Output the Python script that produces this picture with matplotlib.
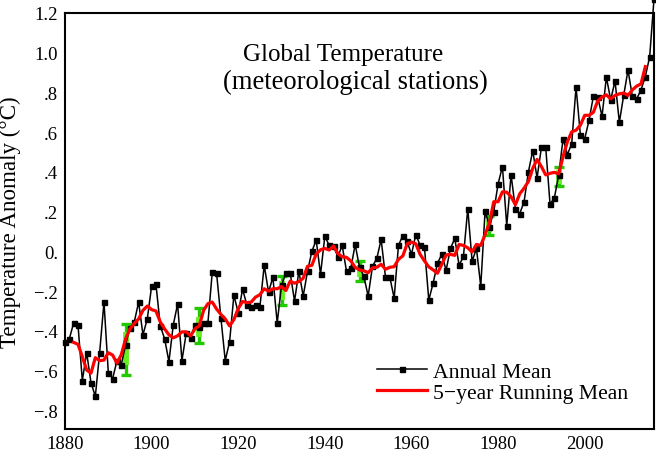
"""Global temperature anomaly from meteorological stations."""

import matplotlib

matplotlib.use("Agg")
import matplotlib.pyplot as plt
import numpy as np

plt.rcParams["font.family"] = ["Liberation Serif", "DejaVu Serif"]

annual_years = np.arange(1880, 2017)
annual_mean = [
    -0.455, -0.44, -0.36, -0.37, -0.65, -0.51, -0.66, -0.73, -0.51, -0.255,
    -0.61, -0.64, -0.55, -0.57, -0.47, -0.385, -0.355, -0.255, -0.42, -0.34,
    -0.175, -0.165, -0.375, -0.44, -0.555, -0.37, -0.265, -0.55, -0.41, -0.435,
    -0.37, -0.38, -0.36, -0.36, -0.105, -0.11, -0.335, -0.55, -0.455, -0.22,
    -0.31, -0.19, -0.27, -0.28, -0.27, -0.28, -0.07, -0.205, -0.13, -0.36,
    -0.17, -0.11, -0.11, -0.25, -0.10, -0.225, -0.10, 0.0, 0.057, -0.115,
    0.077, 0.03, 0.027, -0.027, 0.03, -0.10, -0.085, 0.035, -0.08, -0.125,
    -0.225, -0.075, -0.035, 0.06, -0.13, -0.13, -0.235, 0.03, 0.08, 0.05,
    -0.015, 0.085, 0.03, 0.02, -0.245, -0.16, -0.06, -0.015, -0.095, 0.015,
    0.065, -0.07, -0.025, 0.215, -0.05, 0.015, -0.175, 0.205, 0.125, 0.20,
    0.34, 0.427, 0.13, 0.385, 0.213, 0.19, 0.25, 0.40, 0.507, 0.37,
    0.523, 0.523, 0.237, 0.27, 0.385, 0.567, 0.487, 0.543, 0.827, 0.587,
    0.567, 0.66, 0.78, 0.777, 0.68, 0.877, 0.763, 0.858, 0.65, 0.785,
    0.913, 0.78, 0.768, 0.813, 0.88, 0.98, 1.27,
]

running_years = np.arange(1882, 2015)
running_mean = [
    -0.458, -0.468, -0.53, -0.597, -0.613, -0.535, -0.55, -0.547, -0.51, -0.522,
    -0.563, -0.52, -0.44, -0.39, -0.363, -0.34, -0.297, -0.275, -0.293, -0.30,
    -0.355, -0.39, -0.42, -0.435, -0.425, -0.405, -0.405, -0.425, -0.39, -0.375,
    -0.297, -0.263, -0.255, -0.29, -0.317, -0.34, -0.375, -0.343, -0.288, -0.252,
    -0.258, -0.255, -0.23, -0.218, -0.188, -0.20, -0.188, -0.188, -0.177, -0.197,
    -0.15, -0.16, -0.152, -0.135, -0.075, -0.07, -0.013, 0.008, 0.015, 0.007,
    0.027, -0.01, -0.027, -0.03, -0.048, -0.08, -0.093, -0.098, -0.107, -0.083,
    -0.08, -0.065, -0.09, -0.08, -0.077, -0.04, -0.023, 0.038, 0.047, 0.038,
    -0.015, -0.048, -0.078, -0.093, -0.11, -0.065, -0.018, -0.015, -0.02, 0.035,
    0.03, 0.018, -0.003, 0.035, 0.03, 0.085, 0.143, 0.25, 0.25, 0.30,
    0.298, 0.275, 0.235, 0.29, 0.318, 0.352, 0.418, 0.463, 0.427, 0.385,
    0.393, 0.398, 0.39, 0.477, 0.552, 0.602, 0.61, 0.635, 0.685, 0.685,
    0.70, 0.757, 0.777, 0.788, 0.768, 0.785, 0.793, 0.797, 0.785, 0.813,
    0.832, 0.843, 0.93,
]

# green uncertainty bars: outer range with caps, inner lighter range
bar_years = [1894, 1911, 1930, 1948, 1978, 1994]
bar_low = [-0.622, -0.463, -0.272, -0.148, 0.085, 0.327]
bar_high = [-0.363, -0.283, -0.125, -0.05, 0.177, 0.427]
inner_low = [-0.572, -0.43, -0.247, -0.13, 0.10, 0.34]
inner_high = [-0.405, -0.33, -0.147, -0.07, 0.16, 0.41]

x_ticks = [1880, 1900, 1920, 1940, 1960, 1980, 2000]
y_ticks = [-0.8, -0.6, -0.4, -0.2, 0.0, 0.2, 0.4, 0.6, 0.8, 1.0, 1.2]
y_labels = ["\u2212.8", "\u2212.6", "\u2212.4", "\u2212.2", "0.", ".2", ".4", ".6", ".8", "1.0", "1.2"]

fig = plt.figure(figsize=(6.56, 4.52), dpi=100)
ax = fig.add_axes([65 / 656, 1 - 430 / 452, 589 / 656, 416 / 452])

for year, low, high, in_low, in_high in zip(bar_years, bar_low, bar_high, inner_low, inner_high):
    ax.errorbar(year, (low + high) / 2, yerr=(high - low) / 2, color="#22c800", lw=2.4,
                capsize=3.8, capthick=2.4, zorder=2)
    ax.plot([year, year], [in_low, in_high], color="#66f020", lw=4.2,
            solid_capstyle="butt", zorder=2)

ax.plot(annual_years, annual_mean, color="black", lw=1.1, marker="s", ms=3.6,
        clip_on=False, zorder=3, label="Annual Mean")
ax.plot(running_years, running_mean, color="#ff0000", lw=2.3, zorder=4,
        label="5\u2212year Running Mean")

ax.set_xlim(1880, 2016)
ax.set_ylim(-0.894, 1.2)
ax.set_xticks(x_ticks)
ax.set_yticks(y_ticks)
ax.set_yticklabels(y_labels)
ax.tick_params(length=0, labelsize=13.5, pad=5)
ax.tick_params(axis="x", pad=4)
for spine in ax.spines.values():
    spine.set_linewidth(1.5)

ax.set_ylabel("Temperature Anomaly (\u00b0C)", fontsize=16.6, va="center")
ax.yaxis.set_label_coords(-0.0925, 0.5)

fig.text(343 / 656, 1 - 55 / 452, "Global Temperature", fontsize=18, ha="center", va="center")
fig.text(355 / 656, 1 - 82 / 452, "(meteorological stations)", fontsize=19.2, ha="center", va="center")

ax.legend(loc="lower left", bbox_to_anchor=(0.53, 0.063), frameon=False, fontsize=15.6,
          handlelength=2.3, handletextpad=0.28, labelspacing=0.05, numpoints=1,
          borderpad=0, borderaxespad=0)

fig.savefig("out.png", dpi=100)
